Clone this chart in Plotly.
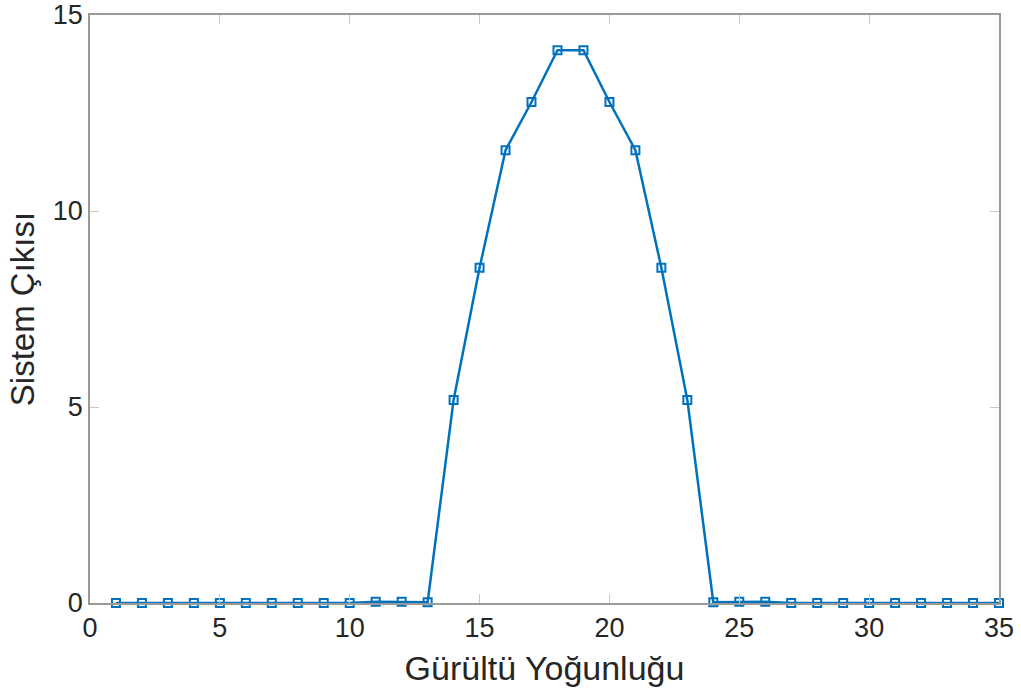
import plotly.graph_objects as go

x_vals = list(range(1, 36))
y_vals = [0, 0, 0, 0, 0, 0, 0, 0, 0, 0,
          0.03, 0.03, 0.02, 5.18, 8.55, 11.55, 12.78, 14.1, 14.1, 12.78,
          11.55, 8.55, 5.18, 0.02, 0.03, 0.03, 0, 0, 0, 0,
          0, 0, 0, 0, 0]
x_ticks = [0, 5, 10, 15, 20, 25, 30, 35]
y_ticks = [0, 5, 10, 15]

FONT = "Liberation Sans, Arial, sans-serif"

fig = go.Figure()
fig.add_trace(go.Scatter(
    x=x_vals, y=y_vals, mode="lines+markers",
    line=dict(color="#0072BD", width=2.5),
    marker=dict(symbol="square-open", size=8, color="#0072BD", line=dict(width=2)),
    showlegend=False, cliponaxis=False,
))

axis_common = dict(
    showgrid=False, zeroline=False, showline=True, linecolor="#9a9a9a", linewidth=1.5,
    mirror="ticks", ticks="inside", ticklen=9, tickcolor="#c8c8c8", tickwidth=1,
    tickfont=dict(family=FONT, size=27, color="#262626"),
    automargin=False, ticklabeloverflow="allow",
)

fig.update_layout(
    width=1021, height=699,
    margin=dict(l=90, r=22, t=15, b=96),
    paper_bgcolor="white", plot_bgcolor="white",
    xaxis=dict(range=[0, 35], tickvals=x_ticks,
               title=dict(text="Gürültü Yoğunluğu", standoff=14,
                          font=dict(family=FONT, size=34, color="#262626")),
               **axis_common),
    yaxis=dict(range=[0, 15], tickvals=y_ticks,
               title=dict(text="Sistem Çıkısı", standoff=8,
                          font=dict(family=FONT, size=33, color="#262626")),
               **axis_common),
)

fig.write_html("out.html")
